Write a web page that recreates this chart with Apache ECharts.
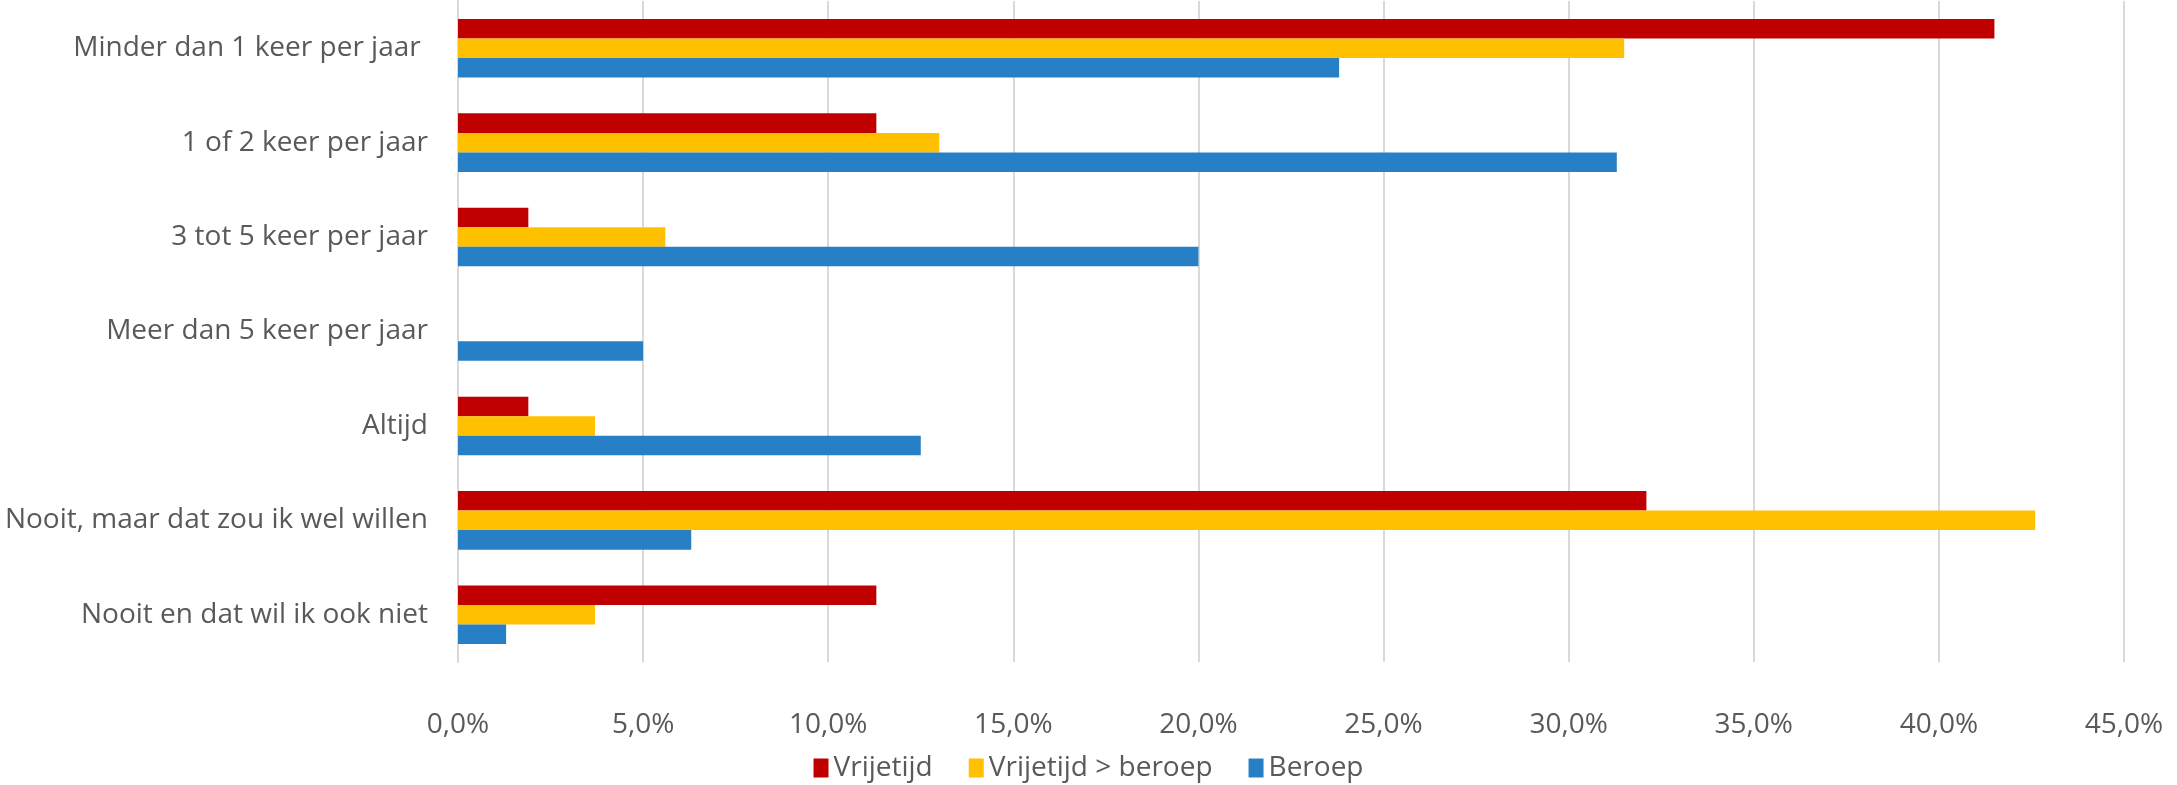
<!DOCTYPE html>
<html>
<head>
<meta charset="utf-8">
<script src="https://cdn.jsdelivr.net/npm/echarts@6/dist/echarts.min.js"></script>
<style>
  html, body { margin: 0; padding: 0; background: #fff; }
  #chart { width: 2177px; height: 785px; }
</style>
</head>
<body>
<div id="chart"></div>
<script>
// categories, top to bottom
const categories = [
  'Minder dan 1 keer per jaar ',
  '1 of 2 keer per jaar',
  '3 tot 5 keer per jaar',
  'Meer dan 5 keer per jaar',
  'Altijd',
  'Nooit, maar dat zou ik wel willen',
  'Nooit en dat wil ik ook niet'
]
const seriesNames = ['Vrijetijd', 'Vrijetijd > beroep', 'Beroep']
// values in percent
const vrijetijd = [41.5, 11.3, 1.9, 0, 1.9, 32.1, 11.3]
const vrijetijdBeroep = [31.5, 13.0, 5.6, 0, 3.7, 42.6, 3.7]
const beroep = [23.8, 31.3, 20.0, 5.0, 12.5, 6.3, 1.3]
const colors = ['#C00000', '#FFC000', '#2780C6']

const textColor = '#595959'
const font = 'Open Sans'

const chart = echarts.init(document.getElementById('chart'))

const makeSeries = (name, data, color) => ({
  name: name,
  type: 'bar',
  data: data,
  barGap: '0%',
  barCategoryGap: '38%',
  itemStyle: { color: color },
  silent: true
})

chart.setOption({
  animation: false,
  color: colors,
  grid: {
    left: 458,
    right: 53,
    top: 1,
    bottom: 123
  },
  legend: {
    bottom: -2,
    left: 'center',
    icon: 'rect',
    itemWidth: 15,
    itemHeight: 19,
    itemGap: 36,
    textStyle: { color: textColor, fontSize: 28, fontFamily: font },
    data: seriesNames
  },
  xAxis: {
    type: 'value',
    min: 0,
    max: 45,
    interval: 5,
    axisLine: { show: false },
    axisTick: { show: false },
    splitLine: { lineStyle: { color: '#D9D9D9', width: 2 } },
    axisLabel: {
      color: textColor,
      fontSize: 28,
      fontFamily: font,
      margin: 49,
      formatter: v => v.toFixed(1).replace('.', ',') + '%'
    }
  },
  yAxis: {
    type: 'category',
    inverse: true,
    data: categories,
    axisLine: { lineStyle: { color: '#D9D9D9', width: 2 } },
    axisTick: { show: false },
    axisLabel: {
      color: textColor,
      fontSize: 28,
      fontFamily: font,
      margin: 30
    }
  },
  series: [
    makeSeries(seriesNames[0], vrijetijd, colors[0]),
    makeSeries(seriesNames[1], vrijetijdBeroep, colors[1]),
    makeSeries(seriesNames[2], beroep, colors[2])
  ]
})
</script>
</body>
</html>
